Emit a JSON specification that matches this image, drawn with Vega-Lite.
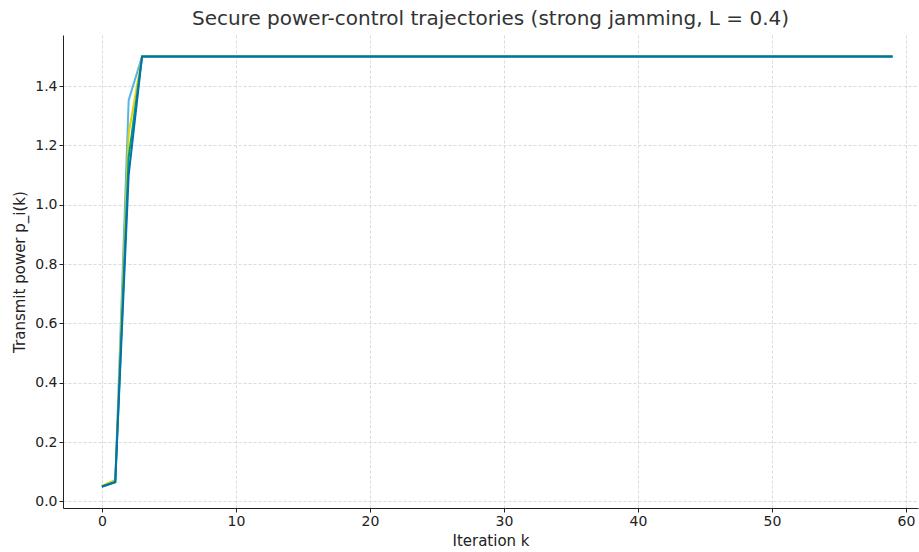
{
  "$schema": "https://vega.github.io/schema/vega-lite/v6.json",
  "width": 855,
  "height": 473,
  "autosize": {"type": "none"},
  "padding": {"left": 63, "top": 35, "right": 1, "bottom": 44},
  "background": "white",
  "config": {
    "font": "DejaVu Sans",
    "view": {"stroke": null},
    "axis": {
      "labelFont": "DejaVu Sans", "titleFont": "DejaVu Sans",
      "labelFontSize": 14, "titleFontSize": 15, "titleFontWeight": "normal",
      "labelColor": "#222", "titleColor": "#222",
      "domainColor": "#222", "tickColor": "#222", "tickSize": 4,
      "gridColor": "#cccccc", "gridDash": [3, 2], "gridWidth": 0.7
    }
  },
  "title": {"text": "Secure power-control trajectories (strong jamming, L = 0.4)", "fontSize": 20, "fontWeight": "normal", "font": "DejaVu Sans", "color": "#333", "offset": 6},
  "data": {"values": [
    {"k":0,"s1":0.050,"s2":0.052,"s3":0.050,"s4":0.049},
    {"k":1,"s1":0.065,"s2":0.072,"s3":0.066,"s4":0.064},
    {"k":2,"s1":1.353,"s2":1.24,"s3":1.16,"s4":1.10},
    {"k":3,"s1":1.5,"s2":1.5,"s3":1.5,"s4":1.5},
    {"k":4,"s1":1.5,"s2":1.5,"s3":1.5,"s4":1.5},
    {"k":5,"s1":1.5,"s2":1.5,"s3":1.5,"s4":1.5},
    {"k":6,"s1":1.5,"s2":1.5,"s3":1.5,"s4":1.5},
    {"k":7,"s1":1.5,"s2":1.5,"s3":1.5,"s4":1.5},
    {"k":8,"s1":1.5,"s2":1.5,"s3":1.5,"s4":1.5},
    {"k":9,"s1":1.5,"s2":1.5,"s3":1.5,"s4":1.5},
    {"k":10,"s1":1.5,"s2":1.5,"s3":1.5,"s4":1.5},
    {"k":11,"s1":1.5,"s2":1.5,"s3":1.5,"s4":1.5},
    {"k":12,"s1":1.5,"s2":1.5,"s3":1.5,"s4":1.5},
    {"k":13,"s1":1.5,"s2":1.5,"s3":1.5,"s4":1.5},
    {"k":14,"s1":1.5,"s2":1.5,"s3":1.5,"s4":1.5},
    {"k":15,"s1":1.5,"s2":1.5,"s3":1.5,"s4":1.5},
    {"k":16,"s1":1.5,"s2":1.5,"s3":1.5,"s4":1.5},
    {"k":17,"s1":1.5,"s2":1.5,"s3":1.5,"s4":1.5},
    {"k":18,"s1":1.5,"s2":1.5,"s3":1.5,"s4":1.5},
    {"k":19,"s1":1.5,"s2":1.5,"s3":1.5,"s4":1.5},
    {"k":20,"s1":1.5,"s2":1.5,"s3":1.5,"s4":1.5},
    {"k":21,"s1":1.5,"s2":1.5,"s3":1.5,"s4":1.5},
    {"k":22,"s1":1.5,"s2":1.5,"s3":1.5,"s4":1.5},
    {"k":23,"s1":1.5,"s2":1.5,"s3":1.5,"s4":1.5},
    {"k":24,"s1":1.5,"s2":1.5,"s3":1.5,"s4":1.5},
    {"k":25,"s1":1.5,"s2":1.5,"s3":1.5,"s4":1.5},
    {"k":26,"s1":1.5,"s2":1.5,"s3":1.5,"s4":1.5},
    {"k":27,"s1":1.5,"s2":1.5,"s3":1.5,"s4":1.5},
    {"k":28,"s1":1.5,"s2":1.5,"s3":1.5,"s4":1.5},
    {"k":29,"s1":1.5,"s2":1.5,"s3":1.5,"s4":1.5},
    {"k":30,"s1":1.5,"s2":1.5,"s3":1.5,"s4":1.5},
    {"k":31,"s1":1.5,"s2":1.5,"s3":1.5,"s4":1.5},
    {"k":32,"s1":1.5,"s2":1.5,"s3":1.5,"s4":1.5},
    {"k":33,"s1":1.5,"s2":1.5,"s3":1.5,"s4":1.5},
    {"k":34,"s1":1.5,"s2":1.5,"s3":1.5,"s4":1.5},
    {"k":35,"s1":1.5,"s2":1.5,"s3":1.5,"s4":1.5},
    {"k":36,"s1":1.5,"s2":1.5,"s3":1.5,"s4":1.5},
    {"k":37,"s1":1.5,"s2":1.5,"s3":1.5,"s4":1.5},
    {"k":38,"s1":1.5,"s2":1.5,"s3":1.5,"s4":1.5},
    {"k":39,"s1":1.5,"s2":1.5,"s3":1.5,"s4":1.5},
    {"k":40,"s1":1.5,"s2":1.5,"s3":1.5,"s4":1.5},
    {"k":41,"s1":1.5,"s2":1.5,"s3":1.5,"s4":1.5},
    {"k":42,"s1":1.5,"s2":1.5,"s3":1.5,"s4":1.5},
    {"k":43,"s1":1.5,"s2":1.5,"s3":1.5,"s4":1.5},
    {"k":44,"s1":1.5,"s2":1.5,"s3":1.5,"s4":1.5},
    {"k":45,"s1":1.5,"s2":1.5,"s3":1.5,"s4":1.5},
    {"k":46,"s1":1.5,"s2":1.5,"s3":1.5,"s4":1.5},
    {"k":47,"s1":1.5,"s2":1.5,"s3":1.5,"s4":1.5},
    {"k":48,"s1":1.5,"s2":1.5,"s3":1.5,"s4":1.5},
    {"k":49,"s1":1.5,"s2":1.5,"s3":1.5,"s4":1.5},
    {"k":50,"s1":1.5,"s2":1.5,"s3":1.5,"s4":1.5},
    {"k":51,"s1":1.5,"s2":1.5,"s3":1.5,"s4":1.5},
    {"k":52,"s1":1.5,"s2":1.5,"s3":1.5,"s4":1.5},
    {"k":53,"s1":1.5,"s2":1.5,"s3":1.5,"s4":1.5},
    {"k":54,"s1":1.5,"s2":1.5,"s3":1.5,"s4":1.5},
    {"k":55,"s1":1.5,"s2":1.5,"s3":1.5,"s4":1.5},
    {"k":56,"s1":1.5,"s2":1.5,"s3":1.5,"s4":1.5},
    {"k":57,"s1":1.5,"s2":1.5,"s3":1.5,"s4":1.5},
    {"k":58,"s1":1.5,"s2":1.5,"s3":1.5,"s4":1.5},
    {"k":59,"s1":1.5,"s2":1.5,"s3":1.5,"s4":1.5}
  ]},
  "transform": [{"fold": ["s1", "s2", "s3", "s4"], "as": ["series", "p"]}],
  "mark": {"type": "line", "strokeWidth": 2, "clip": true},
  "encoding": {
    "x": {"field": "k", "type": "quantitative", "title": "Iteration k",
      "scale": {"domain": [-2.9, 60.9], "nice": false, "zero": false},
      "axis": {"values": [0, 10, 20, 30, 40, 50, 60], "labelFlush": false, "titlePadding": 5}},
    "y": {"field": "p", "type": "quantitative", "title": "Transmit power p_i(k)",
      "scale": {"domain": [-0.0225, 1.5725], "nice": false, "zero": false},
      "axis": {"values": [0, 0.2, 0.4, 0.6, 0.8, 1.0, 1.2, 1.4], "format": ".1f", "labelFlush": false, "titlePadding": 7}},
    "color": {"field": "series", "type": "nominal", "legend": null,
      "scale": {"domain": ["s1", "s2", "s3", "s4"], "range": ["#56B4E9", "#E6CF00", "#009E73", "#0072B2"]}},
    "order": {"field": "series"}
  }
}
